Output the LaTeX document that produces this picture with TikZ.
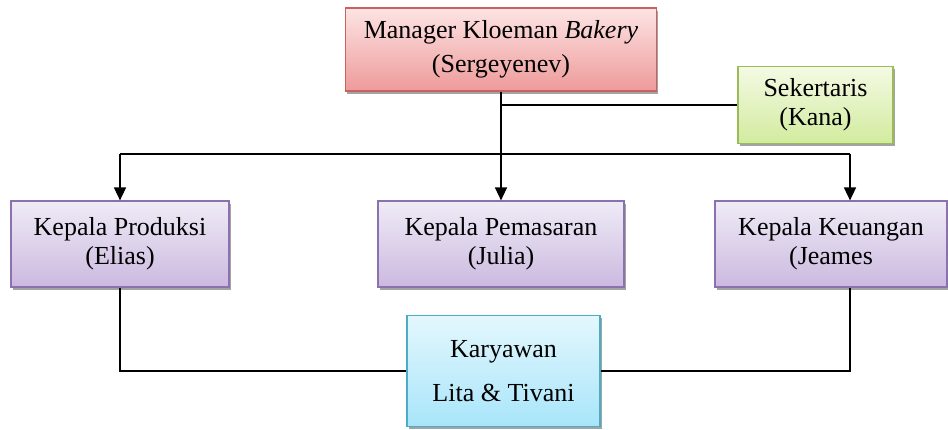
\documentclass[tikz,border=0pt]{standalone}
\usepackage{fontspec}
\setmainfont{Liberation Serif}
\usetikzlibrary{shadows,arrows.meta}
\definecolor{redtop}{HTML}{FDE4E4}
\definecolor{redbot}{HTML}{EE9A9A}
\definecolor{redline}{HTML}{C9615E}
\definecolor{grntop}{HTML}{F4FAE4}
\definecolor{grnbot}{HTML}{D2EB9E}
\definecolor{grnline}{HTML}{9BBB59}
\definecolor{purtop}{HTML}{EFEBF6}
\definecolor{purbot}{HTML}{CBB9DF}
\definecolor{purline}{HTML}{8B72AE}
\definecolor{cyntop}{HTML}{E4F7FD}
\definecolor{cynbot}{HTML}{A8E5FA}
\definecolor{cynline}{HTML}{4BACC6}
\tikzset{
  box/.style={draw, line width=1.2pt, inner sep=0pt, align=center,
    font=\fontsize{26}{29}\selectfont,
    drop shadow={shadow xshift=1.5pt, shadow yshift=-2.5pt, fill=black!45, opacity=0.8}},
  redbox/.style={box, draw=redline, top color=redtop, bottom color=redbot},
  grnbox/.style={box, draw=grnline, top color=grntop, bottom color=grnbot},
  purbox/.style={box, draw=purline, top color=purtop, bottom color=purbot},
  cynbox/.style={box, draw=cynline, top color=cyntop, bottom color=cynbot},
  conn/.style={line width=1.5pt, black},
  arr/.style={conn, -{Triangle[width=12pt,length=13pt]}}
}
\begin{document}
\begin{tikzpicture}[x=1pt,y=-1pt]
\useasboundingbox (0,0) rectangle (948,429);
\node[redbox, minimum width=311pt, minimum height=83pt,
      font=\fontsize{26}{34}\selectfont] (mgr) at (501,49.5)
  {Manager Kloeman \textit{Bakery}\\(Sergeyenev)};
\node[grnbox, minimum width=155pt, minimum height=77pt] (sek) at (815.5,105)
  {Sekertaris\\(Kana)};
\node[purbox, minimum width=218pt, minimum height=86pt] (prod) at (120,244)
  {Kepala Produksi\\(Elias)};
\node[purbox, minimum width=246pt, minimum height=86pt] (pem) at (501,244)
  {Kepala Pemasaran\\(Julia)};
\node[purbox, minimum width=232pt, minimum height=86pt] (keu) at (831,244)
  {Kepala Keuangan\\(Jeames};
\node[cynbox, minimum width=193pt, minimum height=111pt,
      font=\fontsize{26}{44}\selectfont] (kar) at (503.5,371)
  {Karyawan\\Lita \& Tivani};
\coordinate (kx) at (850,154);
\coordinate (px) at (120,154);
% top connectors
\draw[arr] (mgr.south) -- (pem.north);
\draw[conn] (mgr.south |- sek.west) -- (sek.west);
\draw[conn] (px) -- (kx);
\draw[arr] (px) -- (prod.north);
\draw[arr] (kx) -- (kx |- keu.north);
% bottom connectors
\draw[conn] (prod.south) -- (prod.south |- kar.west) -- (kar.west);
\draw[conn] (kar.east) -- (kx |- kar.east) -- (kx |- keu.south);
\end{tikzpicture}
\end{document}
